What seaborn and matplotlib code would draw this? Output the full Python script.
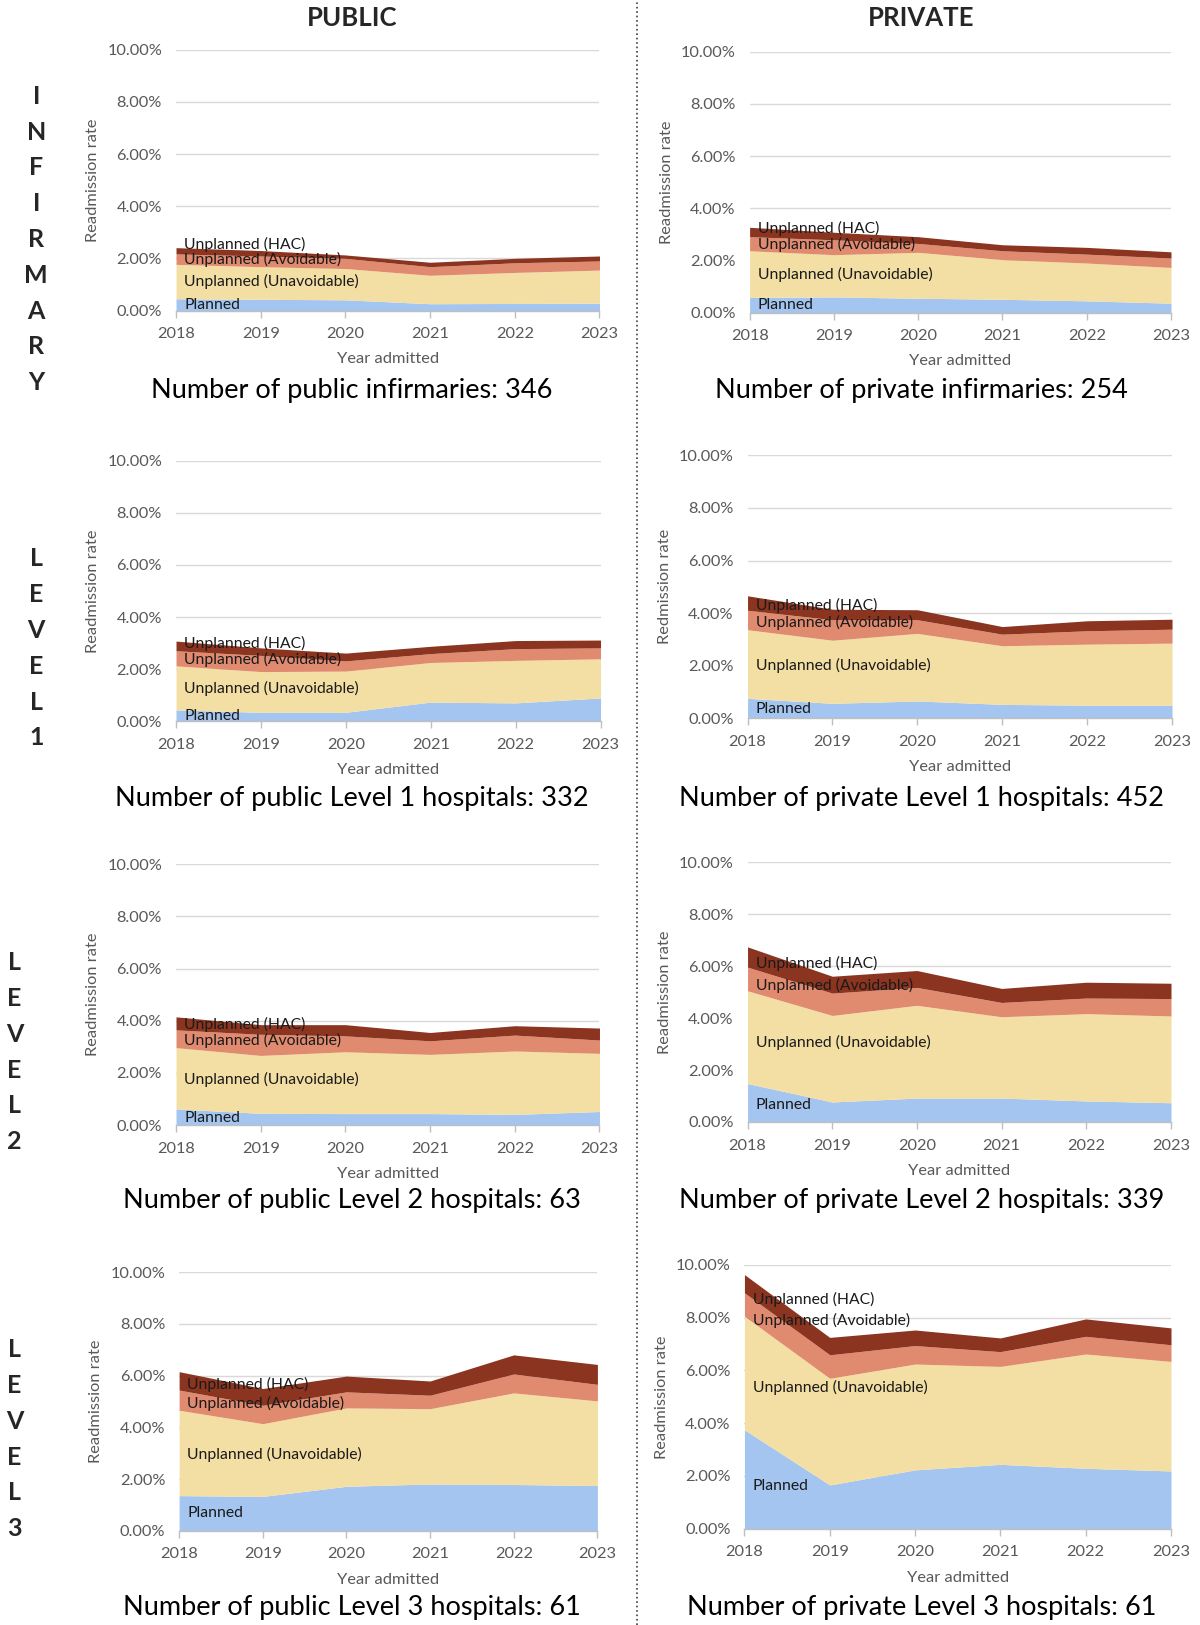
import numpy as np
import pandas as pd
import seaborn as sns
import matplotlib.pyplot as plt
from matplotlib.lines import Line2D

# ---------------- data (readmission rate, %) ----------------
years = [2018, 2019, 2020, 2021, 2022, 2023]
series_names = ["Planned", "Unplanned (Unavoidable)", "Unplanned (Avoidable)", "Unplanned (HAC)"]
series_colors = ["#a3c5f0", "#f3dfa3", "#e08a70", "#8b3520"]

# public infirmary
pub_inf_planned = [0.45, 0.43, 0.41, 0.26, 0.27, 0.28]
pub_inf_unavoid = [1.32, 1.25, 1.20, 1.09, 1.19, 1.27]
pub_inf_avoid = [0.40, 0.41, 0.39, 0.33, 0.37, 0.35]
pub_inf_hac = [0.24, 0.21, 0.13, 0.17, 0.17, 0.19]
# private infirmary
priv_inf_planned = [0.58, 0.60, 0.55, 0.51, 0.45, 0.36]
priv_inf_unavoid = [1.79, 1.62, 1.76, 1.52, 1.45, 1.37]
priv_inf_avoid = [0.54, 0.57, 0.34, 0.34, 0.34, 0.36]
priv_inf_hac = [0.36, 0.29, 0.26, 0.23, 0.26, 0.24]
# public level 1
pub_l1_planned = [0.44, 0.35, 0.35, 0.74, 0.71, 0.90]
pub_l1_unavoid = [1.69, 1.56, 1.58, 1.52, 1.63, 1.50]
pub_l1_avoid = [0.58, 0.62, 0.39, 0.34, 0.45, 0.42]
pub_l1_hac = [0.37, 0.29, 0.30, 0.28, 0.31, 0.30]
# private level 1
priv_l1_planned = [0.76, 0.57, 0.66, 0.53, 0.50, 0.50]
priv_l1_unavoid = [2.61, 2.40, 2.57, 2.23, 2.32, 2.36]
priv_l1_avoid = [0.74, 0.78, 0.52, 0.44, 0.51, 0.53]
priv_l1_hac = [0.55, 0.40, 0.38, 0.29, 0.38, 0.38]
# public level 2
pub_l2_planned = [0.62, 0.45, 0.44, 0.44, 0.41, 0.52]
pub_l2_unavoid = [2.35, 2.22, 2.37, 2.27, 2.43, 2.23]
pub_l2_avoid = [0.68, 0.81, 0.61, 0.52, 0.61, 0.51]
pub_l2_hac = [0.50, 0.37, 0.43, 0.32, 0.36, 0.46]
# private level 2
priv_l2_planned = [1.48, 0.77, 0.92, 0.92, 0.81, 0.74]
priv_l2_unavoid = [3.57, 3.33, 3.57, 3.13, 3.36, 3.34]
priv_l2_avoid = [0.91, 0.86, 0.69, 0.55, 0.60, 0.67]
priv_l2_hac = [0.78, 0.65, 0.65, 0.54, 0.61, 0.59]
# public level 3
pub_l3_planned = [1.36, 1.33, 1.72, 1.81, 1.79, 1.75]
pub_l3_unavoid = [3.30, 2.81, 3.03, 2.91, 3.54, 3.27]
pub_l3_avoid = [0.78, 0.71, 0.62, 0.52, 0.73, 0.64]
pub_l3_hac = [0.71, 0.65, 0.61, 0.55, 0.74, 0.77]
# private level 3
priv_l3_planned = [3.75, 1.66, 2.23, 2.44, 2.29, 2.19]
priv_l3_unavoid = [4.30, 4.04, 4.01, 3.71, 4.33, 4.15]
priv_l3_avoid = [0.89, 0.89, 0.70, 0.56, 0.67, 0.63]
priv_l3_hac = [0.69, 0.66, 0.59, 0.52, 0.66, 0.64]

captions = [
    "Number of public infirmaries: 346", "Number of private infirmaries: 254",
    "Number of public Level 1 hospitals: 332", "Number of private Level 1 hospitals: 452",
    "Number of public Level 2 hospitals: 63", "Number of private Level 2 hospitals: 339",
    "Number of public Level 3 hospitals: 61", "Number of private Level 3 hospitals: 61",
]
ylabels = ["Readmission rate"] * 8
ylabels[3] = "Redmission rate"

panel_data = [
    (pub_inf_planned, pub_inf_unavoid, pub_inf_avoid, pub_inf_hac),
    (priv_inf_planned, priv_inf_unavoid, priv_inf_avoid, priv_inf_hac),
    (pub_l1_planned, pub_l1_unavoid, pub_l1_avoid, pub_l1_hac),
    (priv_l1_planned, priv_l1_unavoid, priv_l1_avoid, priv_l1_hac),
    (pub_l2_planned, pub_l2_unavoid, pub_l2_avoid, pub_l2_hac),
    (priv_l2_planned, priv_l2_unavoid, priv_l2_avoid, priv_l2_hac),
    (pub_l3_planned, pub_l3_unavoid, pub_l3_avoid, pub_l3_hac),
    (priv_l3_planned, priv_l3_unavoid, priv_l3_avoid, priv_l3_hac),
]

# ---------------- layout (measured on a 1159 x 1570 grid) ----------------
W, H = 1159, 1570
# x of 2018, x of 2023, y of 0%, y of 10%
panel_px = [
    (170, 579, 300, 48), (724, 1131, 302, 50),
    (170, 580, 697, 445), (722, 1132, 694, 440),
    (170, 579, 1087, 835), (722, 1131, 1084, 833),
    (173, 577, 1479, 1229), (719, 1131, 1477, 1222),
]
caption_y = [377, 377, 771, 771, 1160, 1160, 1553, 1553]
col_x = [340, 890]

sns.set_theme(style="white")
plt.rcParams["font.family"] = ["Lato", "DejaVu Sans"]

fig = plt.figure(figsize=(12, 16.25), dpi=100)

for i, (x0, x1, y0, y10) in enumerate(panel_px):
    ax = fig.add_axes([x0 / W, 1 - y0 / H, (x1 - x0) / W, (y0 - y10) / H])
    vals = panel_data[i]
    ax.stackplot(years, *vals, colors=series_colors, linewidth=0)

    ax.set_xlim(2018, 2023)
    ax.set_ylim(0, 10)
    ax.set_yticks(np.arange(0, 11, 2))
    ax.set_yticklabels([f"{v:.2f}%" for v in np.arange(0, 11, 2)])
    ax.set_xticks(years)
    ax.set_xticklabels([str(y) for y in years])
    ax.yaxis.grid(True, color="#d9d9d9", lw=1)
    ax.xaxis.grid(False)
    ax.set_axisbelow(True)
    sns.despine(ax=ax, left=True)
    ax.spines["bottom"].set_color("#bfbfbf")
    ax.spines["bottom"].set_linewidth(1)
    ax.tick_params(axis="y", length=0, pad=10, labelsize=11.8, labelcolor="#595959")
    ax.tick_params(axis="x", length=5, width=1, color="#bfbfbf", direction="out",
                   pad=7, labelsize=11.8, labelcolor="#595959", bottom=True)
    ax.set_ylabel(ylabels[i], fontsize=11.8, color="#595959", labelpad=5)
    ax.set_xlabel("Year admitted", fontsize=11.8, color="#595959", labelpad=8)

    # data labels near the left edge, centred in each band
    cum = np.cumsum(np.array(vals), axis=0)
    prev = -1.0
    for k, name in enumerate(series_names):
        top = np.interp(2018.25, years, cum[k])
        bottom = 0 if k == 0 else np.interp(2018.25, years, cum[k - 1])
        y = max((top + bottom) / 2, prev + 0.6)
        prev = y
        ax.annotate(name, xy=(2018, y), xytext=(6, 0), textcoords="offset points",
                    ha="left", va="center", fontsize=11.3, color="#1a1a1a")

    fig.text(col_x[i % 2] / W, 1 - caption_y[i] / H, captions[i],
             ha="center", va="center", fontsize=19.5, color="black")

# column titles
fig.text(col_x[0] / W, 1 - 17 / H, "PUBLIC", ha="center", va="center",
         fontsize=18.5, fontweight="bold")
fig.text(col_x[1] / W, 1 - 17 / H, "PRIVATE", ha="center", va="center",
         fontsize=18.5, fontweight="bold")

# row labels, one letter per line
row_words = ["INFIRMARY", "LEVEL1", "LEVEL2", "LEVEL3"]
row_x = [35, 35, 14, 14]
row_start = [93, 540, 930, 1304]
for word, rx, ry in zip(row_words, row_x, row_start):
    for j, ch in enumerate(word):
        fig.text(rx / W, 1 - (ry + j * 34.6) / H, ch, ha="center", va="center",
                 fontsize=18, fontweight="bold")

# dotted separator between columns
fig.add_artist(Line2D([615 / W, 615 / W], [0, 1], transform=fig.transFigure,
                      ls=":", color="#404040", lw=1.2))

fig.savefig("out.png", dpi=100)
